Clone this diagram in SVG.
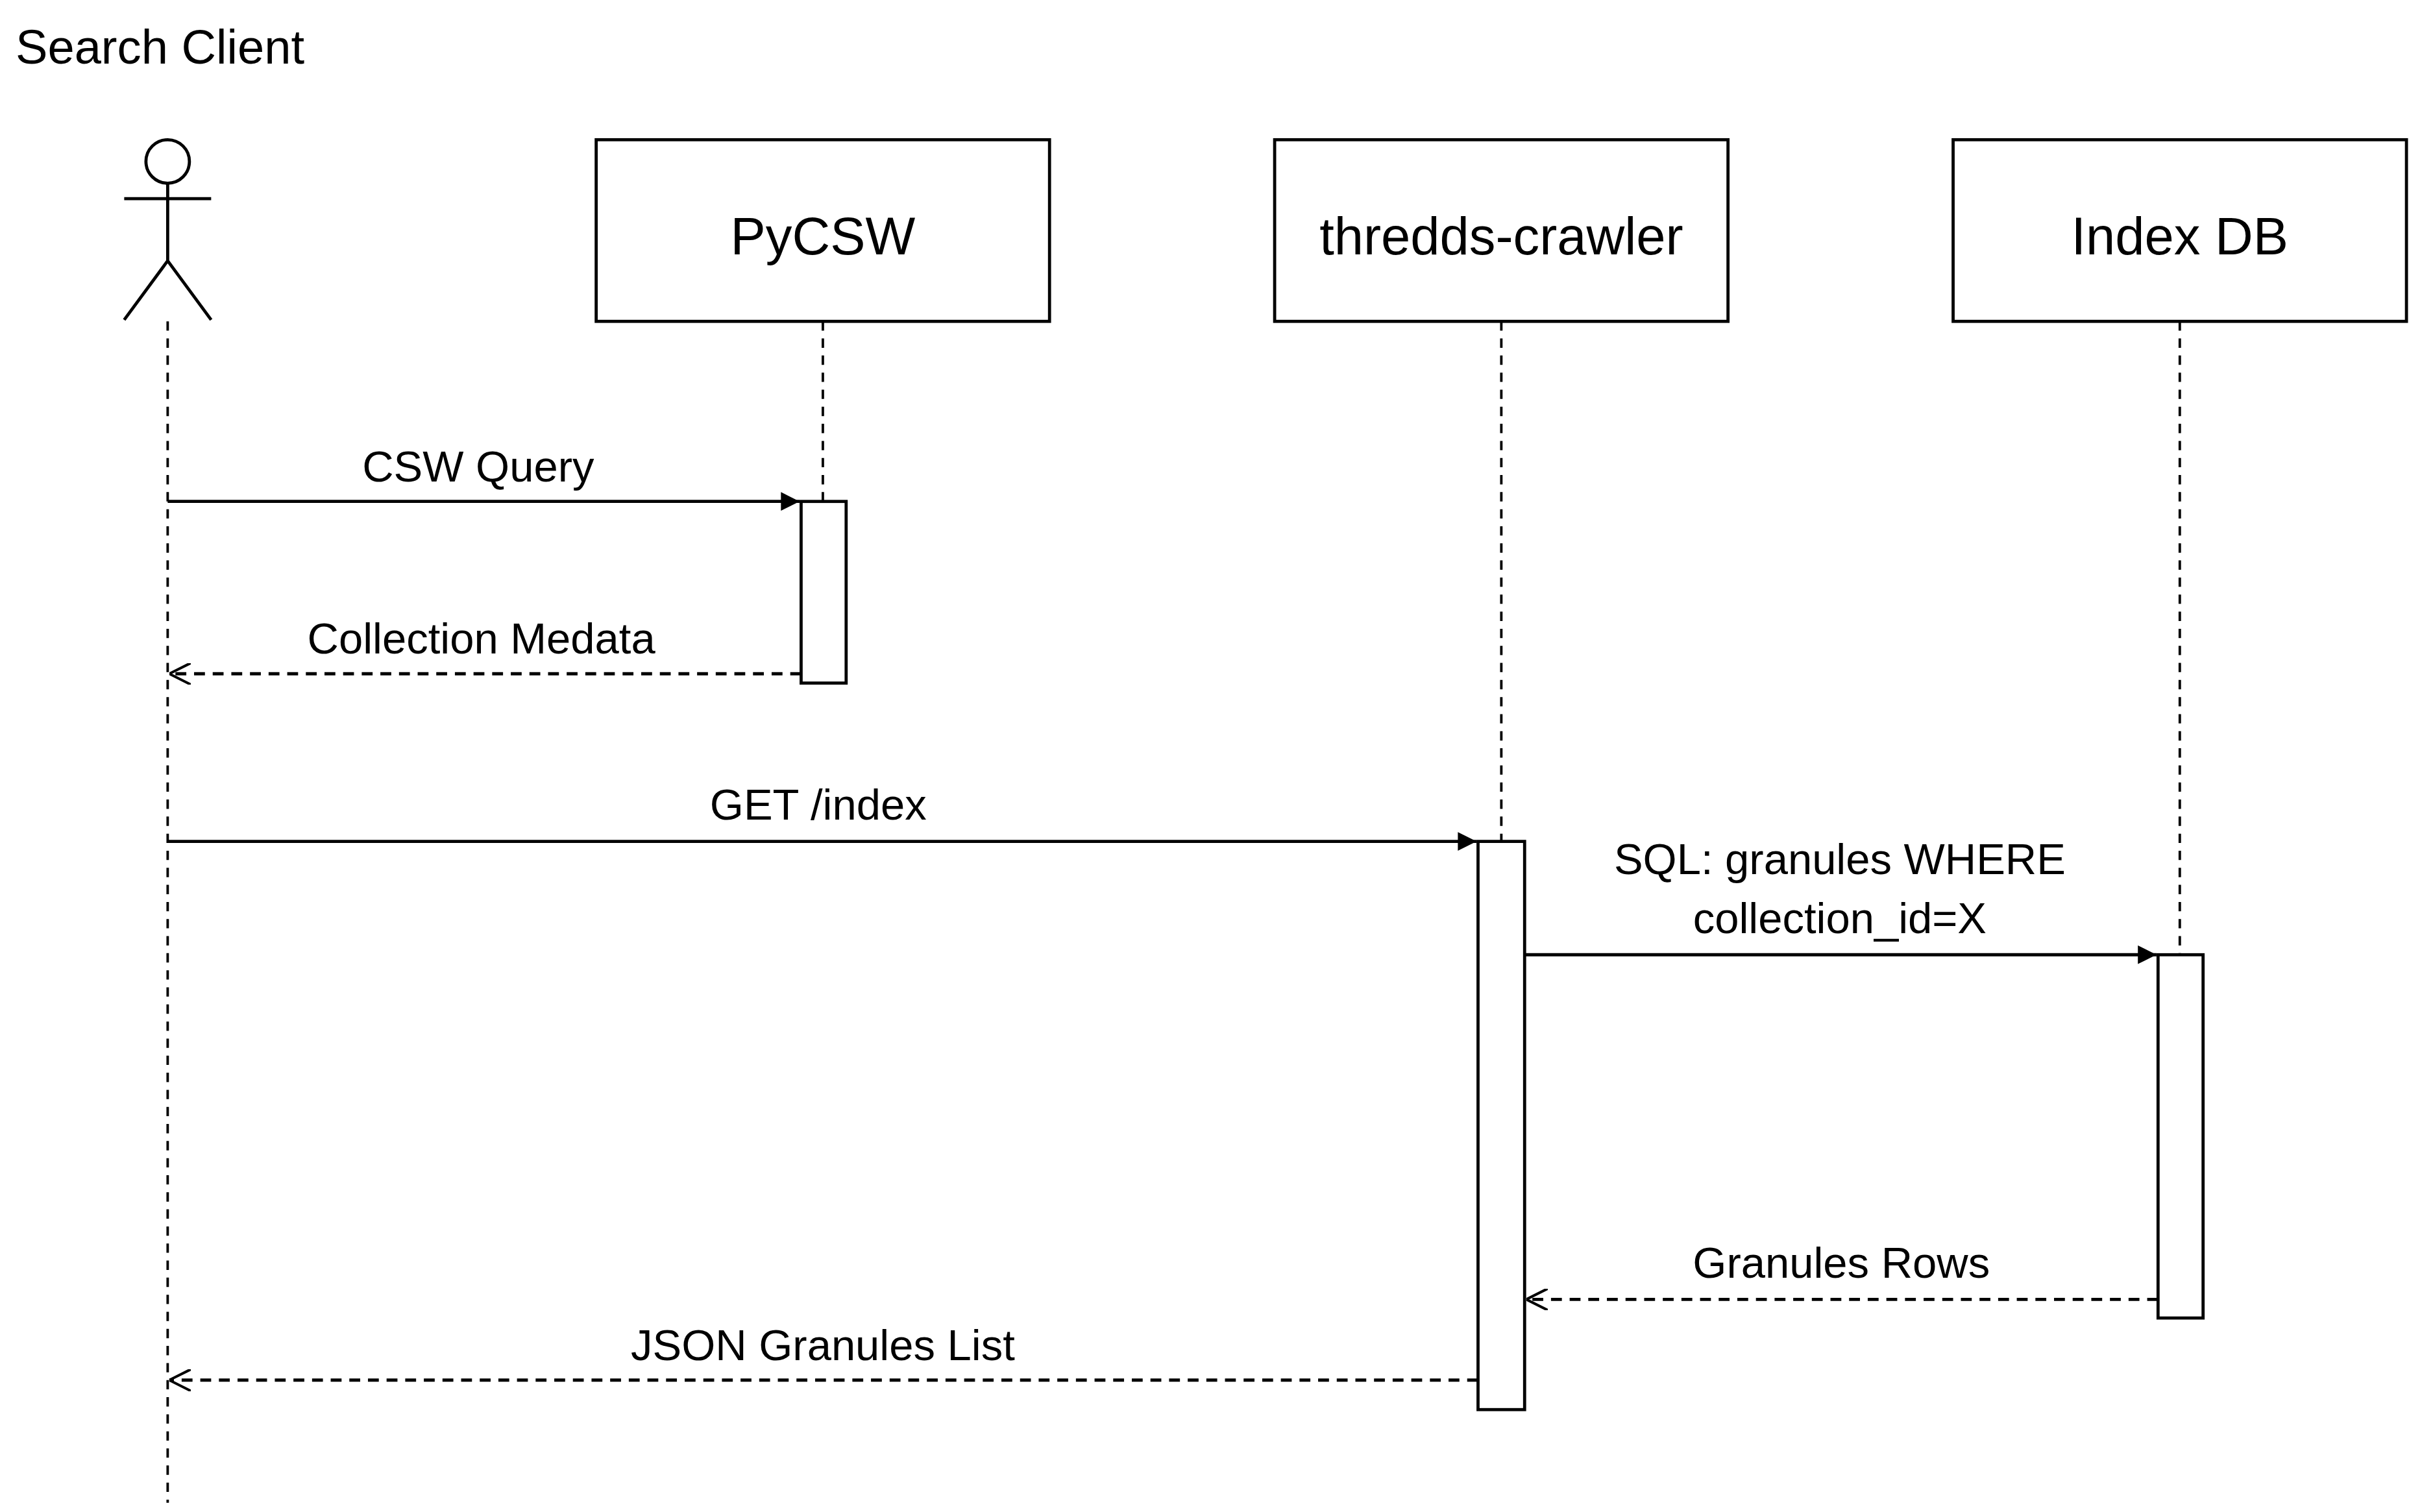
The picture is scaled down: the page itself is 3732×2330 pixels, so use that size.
<svg xmlns="http://www.w3.org/2000/svg" width="3732" height="2330" viewBox="0 0 3732 2330">
<defs>
<style>
text{font-family:"Liberation Sans",Arial,sans-serif;fill:#000}
.lbl{font-size:28px;text-anchor:middle}
.node{font-size:34px;text-anchor:middle}
.box{fill:#fff;stroke:#000;stroke-width:2}
.life{stroke:#000;stroke-width:1.6;stroke-dasharray:6 5;fill:none}
.msg{stroke:#000;stroke-width:2;fill:none}
.ret{stroke:#000;stroke-width:2;stroke-dasharray:7 5;fill:none}
</style>
<marker id="fill" markerWidth="12" markerHeight="12" refX="10" refY="5" orient="auto" markerUnits="userSpaceOnUse" viewBox="0 0 10 10"><path d="M0,0 L10,5 L0,10 Z" fill="#000"/></marker>
<marker id="open" markerWidth="14" markerHeight="14" refX="10" refY="5" orient="auto" markerUnits="userSpaceOnUse" viewBox="0 0 10 10"><path d="M0,0 L10,5 L0,10" fill="none" stroke="#000" stroke-width="1.2"/></marker>
</defs>
<rect width="3732" height="2330" fill="#fff"/>
<g transform="scale(2.3923)">
<g id="client">
<text x="10" y="41" style="font-size:31px">Search Client</text>
<circle cx="108" cy="104" r="14" fill="#fff" stroke="#000" stroke-width="2"/>
<path d="M108,118 V168 M80,128 H136 M108,168 L80,206 M108,168 L136,206" stroke="#000" stroke-width="2" fill="none"/>
<line class="life" x1="108" y1="207" x2="108" y2="968"/>
</g>
<g id="pycsw">
<line class="life" x1="530" y1="207" x2="530" y2="323"/>
<rect class="box" x="384" y="90" width="292" height="117"/>
<text class="node" x="530" y="164">PyCSW</text>
<rect class="box" x="516" y="323" width="29" height="117"/>
</g>
<g id="crawler">
<line class="life" x1="967" y1="207" x2="967" y2="542"/>
<rect class="box" x="821" y="90" width="292" height="117"/>
<text class="node" x="967" y="164">thredds-crawler</text>
<rect class="box" x="952" y="542" width="30" height="366"/>
</g>
<g id="indexdb">
<line class="life" x1="1404" y1="207" x2="1404" y2="615"/>
<rect class="box" x="1258" y="90" width="292" height="117"/>
<text class="node" x="1404" y="164">Index DB</text>
<rect class="box" x="1390" y="615" width="29" height="234"/>
</g>
<g id="connectors">
<line class="msg" x1="108" y1="323" x2="515" y2="323" marker-end="url(#fill)"/>
<text class="lbl" x="308" y="310">CSW Query</text>
<line class="ret" x1="516" y1="434" x2="109" y2="434" marker-end="url(#open)"/>
<text class="lbl" x="310" y="421">Collection Medata</text>
<line class="msg" x1="108" y1="542" x2="951" y2="542" marker-end="url(#fill)"/>
<text class="lbl" x="527" y="528">GET /index</text>
<line class="msg" x1="982" y1="615" x2="1389" y2="615" marker-end="url(#fill)"/>
<text class="lbl" x="1185" y="563">SQL: granules WHERE</text>
<text class="lbl" x="1185" y="601">collection_id=X</text>
<line class="ret" x1="1390" y1="837" x2="983" y2="837" marker-end="url(#open)"/>
<text class="lbl" x="1186" y="823">Granules Rows</text>
<line class="ret" x1="952" y1="889" x2="109" y2="889" marker-end="url(#open)"/>
<text class="lbl" x="530" y="876">JSON Granules List</text>
</g>
</g>
</svg>
